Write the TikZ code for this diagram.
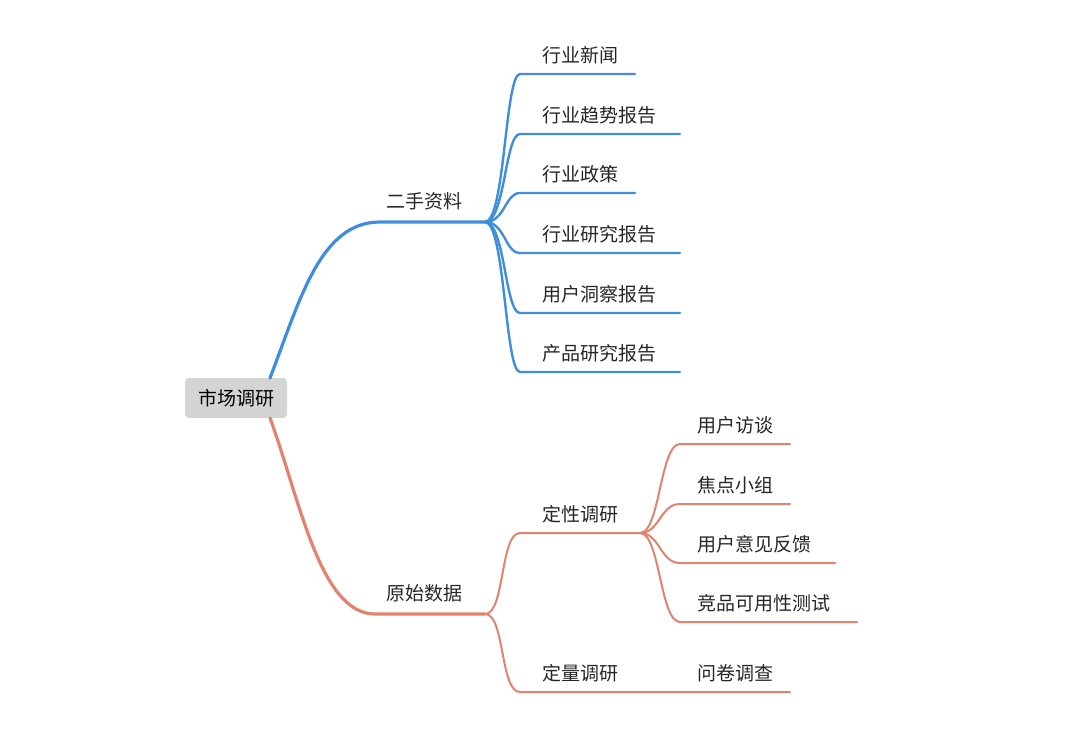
\documentclass[tikz,border=0pt]{standalone}
\usepackage{fontspec}
\setmainfont{Noto Sans CJK SC}
\begin{document}
\begin{tikzpicture}[x=1pt,y=-1pt,
  blu/.style={draw=blueC,line width=3.2pt,line cap=round},
  blul/.style={draw=blueC,line width=2.4pt,line cap=round},
  red/.style={draw=redC,line width=3.2pt,line cap=round},
  redl/.style={draw=redC,line width=2pt,line cap=round},
  lbl/.style={font=\fontsize{19}{19}\selectfont,text=black!85,inner sep=0pt,anchor=base west}]
\definecolor{blueC}{HTML}{3F8DDC}
\definecolor{redC}{HTML}{E0836F}
\useasboundingbox (0,0) rectangle (1080,731);
\node[fill=black!17,rounded corners=4pt,minimum width=102pt,minimum height=40pt,font=\fontsize{19}{19}\selectfont] (root) at (236,398) {市场调研};
% blue
\coordinate (b0) at (270,378);
\coordinate (b1) at (380,222);
\coordinate (b2) at (485,222);
\draw[blu] (b0) .. controls (300,300) and (320,222) .. (b1) -- (b2);
\node[lbl] (bt) at (386,208) {二手资料};
\foreach \y/\e/\t [count=\i] in {74/635/行业新闻,134/680/行业趋势报告,193/635/行业政策,253/680/行业研究报告,313/680/用户洞察报告,372/680/产品研究报告}{
  \coordinate (bs\i) at (520,\y);
  \coordinate (be\i) at (\e,\y);
  \draw[blul] (b2) .. controls (505,222) and (505,\y) .. (bs\i) -- (be\i);
  \node[lbl] (bl\i) at (542,\y-12) {\t};
}
% red
\coordinate (r0) at (270,418);
\coordinate (r1) at (375,614);
\coordinate (r2) at (485,614);
\draw[red] (r0) .. controls (300,500) and (320,614) .. (r1) -- (r2);
\node[lbl] (rt) at (386,600) {原始数据};
\coordinate (q1) at (520,533); \coordinate (q2) at (640,533);
\coordinate (n1) at (520,692); \coordinate (n2) at (640,692); \coordinate (n3) at (790,692);
\draw[redl] (r2) .. controls (505,614) and (500,533) .. (q1) -- (q2);
\draw[redl] (r2) .. controls (505,614) and (500,692) .. (n1) -- (n2) -- (n3);
\node[lbl] (qt) at (542,521) {定性调研};
\node[lbl] (nt) at (542,680) {定量调研};
\node[lbl] (wj) at (697,680) {问卷调查};
\foreach \y/\e/\t [count=\i] in {444/790/用户访谈,504/790/焦点小组,563/835/用户意见反馈,622/857/竞品可用性测试}{
  \coordinate (qs\i) at (680,\y);
  \coordinate (qe\i) at (\e,\y);
  \draw[redl] (q2) .. controls (660,533) and (660,\y) .. (qs\i) -- (qe\i);
  \node[lbl] (ql\i) at (697,\y-12) {\t};
}
\end{tikzpicture}
\end{document}
